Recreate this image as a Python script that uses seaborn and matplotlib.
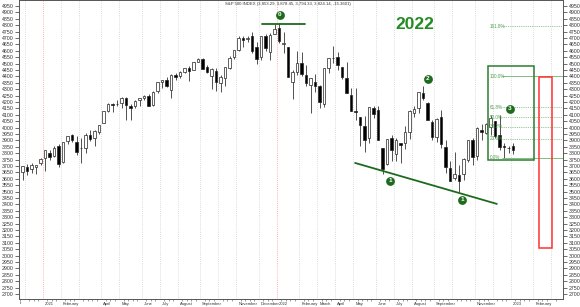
import numpy as np
import pandas as pd
import matplotlib
matplotlib.use("Agg")
import matplotlib.pyplot as plt
import matplotlib.transforms as mtransforms
import seaborn as sns

# ---------------- data (weekly S&P 500 candles) ----------------
first_week = "2020-11-30"
opens = [3653, 3694, 3675, 3694, 3723,
         3764, 3803, 3781, 3856, 3732, 3892, 3939, 3886, 3842, 3844, 3942, 3916, 3969,
         4034, 4130, 4182, 4185, 4192, 4228, 4169, 4170, 4216, 4229, 4248, 4173, 4284,
         4356, 4372, 4296, 4409, 4406, 4438, 4462, 4450, 4513, 4536, 4474, 4403, 4442,
         4348, 4386, 4464, 4553, 4610, 4701, 4689, 4712, 4628, 4548, 4714, 4587, 4733,
         4778, 4655, 4632, 4357, 4431, 4505, 4413, 4332, 4354, 4328, 4188, 4462, 4541,
         4547, 4474, 4385, 4255, 4131, 4081, 4013, 3920, 4151, 4134, 3838, 3715, 3920,
         3793, 3880, 3883, 3966, 4113, 4155, 4270, 4195, 4041, 3930, 4084, 3849, 3682,
         3610, 3630, 3637, 3746, 3902, 3780, 3977, 3956, 4005, 4053, 3939, 3853, 3843,
         3853.29]
highs = [3699, 3712, 3726, 3711, 3760,
         3826, 3823, 3860, 3870, 3887, 3937, 3950, 3932, 3915, 3960, 3983, 3978, 4020,
         4130, 4191, 4195, 4219, 4238, 4237, 4188, 4213, 4234, 4255, 4262, 4286, 4356,
         4372, 4393, 4415, 4429, 4440, 4468, 4480, 4511, 4546, 4546, 4486, 4465, 4465,
         4412, 4475, 4559, 4608, 4718, 4714, 4717, 4744, 4672, 4713, 4731, 4741, 4808,
         4819, 4749, 4632, 4454, 4595, 4590, 4490, 4385, 4416, 4331, 4465, 4546, 4637,
         4594, 4471, 4512, 4308, 4307, 4081, 4090, 4159, 4168, 4169, 3838, 3913, 3946,
         3918, 3880, 4013, 4140, 4167, 4280, 4325, 4204, 4062, 4077, 4140, 3907, 3737,
         3807, 3711, 3762, 3906, 3919, 4002, 4029, 4034, 4101, 4055, 4101, 3879, 3859,
         3878.45]
lows = [3594, 3633, 3648, 3636, 3707,
        3663, 3749, 3774, 3694, 3725, 3875, 3884, 3789, 3723, 3805, 3896, 3853, 3949,
        4034, 4124, 4119, 4165, 4156, 4057, 4061, 4152, 4168, 4218, 4165, 4165, 4271,
        4310, 4321, 4233, 4373, 4386, 4424, 4368, 4450, 4513, 4458, 4428, 4305, 4288,
        4279, 4329, 4459, 4537, 4595, 4630, 4672, 4585, 4495, 4532, 4600, 4531, 4733,
        4662, 4582, 4395, 4223, 4412, 4401, 4327, 4115, 4279, 4157, 4162, 4424, 4507,
        4451, 4381, 4267, 4129, 4062, 3859, 3811, 3876, 4074, 3900, 3637, 3705, 3741,
        3743, 3722, 3832, 3913, 4080, 4112, 4218, 4057, 3907, 3886, 3838, 3647, 3584,
        3590, 3491, 3590, 3735, 3705, 3749, 3906, 3947, 3939, 3919, 3828, 3764, 3800,
        3794.33]
closes = [3699, 3663, 3709, 3703, 3756,
          3825, 3768, 3841, 3714, 3887, 3934, 3906, 3811, 3842, 3943, 3913, 3975, 4020,
          4129, 4185, 4180, 4181, 4233, 4174, 4156, 4204, 4230, 4247, 4166, 4281, 4352,
          4370, 4327, 4412, 4395, 4437, 4468, 4442, 4509, 4535, 4459, 4433, 4455, 4357,
          4391, 4471, 4545, 4605, 4697, 4683, 4698, 4595, 4538, 4712, 4620, 4726, 4766,
          4677, 4663, 4398, 4432, 4500, 4419, 4349, 4385, 4329, 4204, 4463, 4543, 4546,
          4488, 4393, 4272, 4132, 4123, 4024, 3901, 4158, 4109, 3901, 3675, 3912, 3825,
          3899, 3863, 3962, 4130, 4145, 4280, 4228, 4058, 3924, 4067, 3873, 3693, 3586,
          3640, 3583, 3753, 3901, 3771, 3993, 3965, 4026, 4072, 3934, 3852, 3845, 3840,
          3824.14]
future_weeks = 12

title = "S&P 500 INDEX (3,853.29, 3,878.45, 3,794.33, 3,824.14, -15.3601)"
yticks = list(range(2700, 5000, 50))
month_names = ["", "", "February", "March", "April", "May", "June", "July",
               "August", "September", "October", "November", "December"]
hidden_labels = [(2021, 3), (2021, 10), (2022, 10), (2022, 12), (2020, 12), (2023, 3)]

fib_low = 3765
fib_high = 4400
fib_ratios = [1.618, 1.0, 0.618, 0.5, 0.382, 0.236, 0.0]
fib_texts = ["161.8%", "100.0%", "61.8%", "50.0%", "38.2%", "23.6%", "0.0%"]

wave_texts = ["0", "1", "2", "1", "3"]
wave_x = [57.2, 81.7, 90.1, 97.7, 108.3]
wave_y = [4880, 3583, 4380, 3435, 4146]
top_line_x = [53.2, 62.8]
top_line_y = [4809, 4809]
trend_x = [73.9, 105.4]
trend_y = [3724, 3404]
green_box_x = [103.5, 113.7]
green_box_y = [3745, 4481]
red_box_x = [114.8, 117.7]
red_box_y = [3058, 4398]

# ---------------- figure ----------------
sns.set_style("white")
plt.rcParams['font.family'] = ['Liberation Sans', 'DejaVu Sans']

W, H = 580, 307
fig = plt.figure(figsize=(W / 100, H / 100), dpi=100)
ax = fig.add_axes([19 / W, (H - 299) / H, (563 - 19) / W, 299 / H])

n = len(opens)
idx = np.arange(n)
o = np.array(opens, float); c = np.array(closes, float)
hi = np.array(highs, float); lo = np.array(lows, float)
weeks = pd.date_range(first_week, periods=n + future_weeks, freq="7D")

ax.set_xlim(-0.78, 120.1)
ax.set_ylim(2661, 4997)

# month gridlines
major_pos, major_lab = [], []
for i in range(1, len(weeks)):
    if weeks[i].month != weeks[i - 1].month:
        pos = i - 0.5
        y, m = weeks[i].year, weeks[i].month
        if m == 1:
            col = '#ff9a9a' if y < 2023 else '#d0d0d0'
            lab = str(y)
        else:
            col = '#d0d0d0'
            lab = month_names[m]
        ax.axvline(pos, color=col, lw=0.6, ls=(0, (1, 1.5)), zorder=0)
        if (y, m) in hidden_labels:
            lab = ""
        major_pos.append(pos)
        major_lab.append(lab)

# candles
up = c >= o
ax.vlines(idx, lo, hi, color='#222222', lw=0.55, zorder=2)
ax.bar(idx, np.abs(c - o) + 1, bottom=np.minimum(o, c), width=0.62,
       color=np.where(up, 'white', 'black'), edgecolor='#222222', lw=0.5, zorder=3)

# annotations
dark_green = '#1e6b1e'
sns.lineplot(x=top_line_x, y=top_line_y, ax=ax, color=dark_green, lw=1.3, zorder=4)
sns.lineplot(x=trend_x, y=trend_y, ax=ax, color=dark_green, lw=1.3, zorder=4)
ax.scatter(wave_x, wave_y, s=40, color=dark_green, zorder=5, lw=0)
for t, xx, yy in zip(wave_texts, wave_x, wave_y):
    ax.text(xx, yy, t, color='white', fontsize=4.6, fontweight='bold',
            ha='center', va='center', zorder=6)

ax.add_patch(plt.Rectangle((green_box_x[0], green_box_y[0]),
                           green_box_x[1] - green_box_x[0], green_box_y[1] - green_box_y[0],
                           fill=False, ec='#2e7d32', lw=1.1, zorder=4))
ax.add_patch(plt.Rectangle((red_box_x[0], red_box_y[0]),
                           red_box_x[1] - red_box_x[0], red_box_y[1] - red_box_y[0],
                           fill=False, ec='#ff3030', lw=1.1, zorder=4))

for r, t in zip(fib_ratios, fib_texts):
    lvl = fib_low + r * (fib_high - fib_low)
    solid = r in (1.0, 0.0)
    ax.hlines(lvl, 106.6, 120.1, color='#6cb46c', lw=0.6,
              ls='-' if solid else (0, (1, 1.2)), zorder=3)
    ax.text(103.9, lvl, t, color='#4f9f4f', fontsize=3.3, ha='left', va='center', zorder=5)

ax.text(87.2, 4802, "2022", color='#228b22', fontsize=12.5, fontweight='bold',
        ha='center', va='center', zorder=5)

fig.text(288 / W, 1 - 4.5 / H, title, fontsize=3.1, color='#333333',
         ha='center', va='center')

# axes styling
for s in ax.spines.values():
    s.set_color('#555555'); s.set_linewidth(0.7)
ax.set_yticks(yticks)
ax.set_yticklabels([str(v) for v in yticks])
ax.tick_params(axis='y', which='major', left=True, right=True, labelleft=True,
               labelright=True, length=3, width=0.5, pad=1, labelsize=3.8,
               colors='#333333', direction='out')
ax.set_xticks(major_pos)
ax.set_xticklabels(major_lab)
ax.set_xticks(np.arange(0, 120) - 0.5, minor=True)
ax.tick_params(axis='x', which='major', length=2.2, width=0.5, pad=0.2,
               labelsize=3.0, colors='#333333', direction='out')
ax.tick_params(axis='x', which='minor', length=1.3, width=0.4, colors='#555555',
               direction='out', bottom=True)
offset = mtransforms.ScaledTranslation(2.0 / 100, 0, fig.dpi_scale_trans)
for lbl in ax.get_xticklabels():
    lbl.set_horizontalalignment('left')
    lbl.set_transform(lbl.get_transform() + offset)
fig.text(19.5 / W, 1 - 303.5 / H, "t", fontsize=3.0, color='#333333',
         ha='left', va='center')

ax.grid(False)
fig.savefig("out.png", dpi=100)
